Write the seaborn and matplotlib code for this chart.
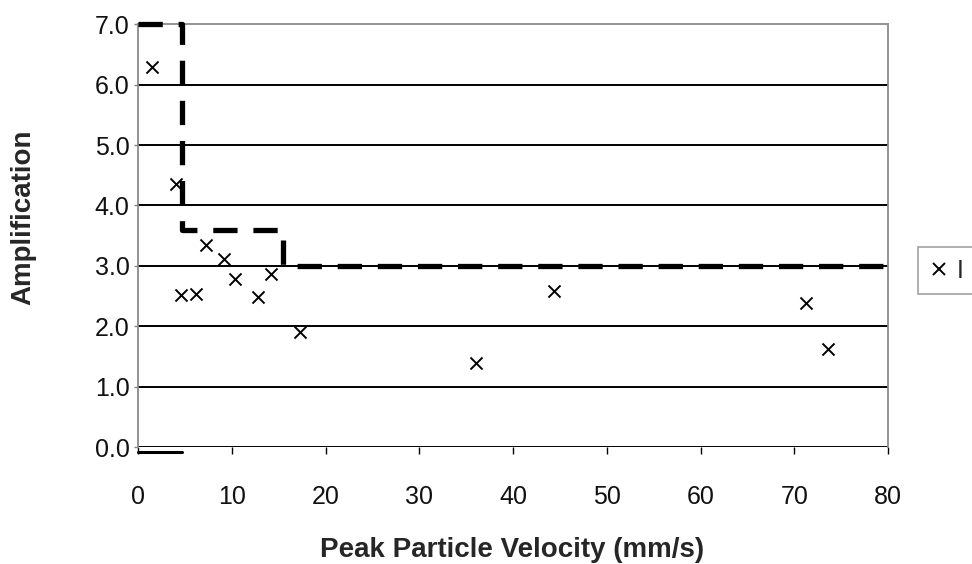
import matplotlib
matplotlib.use("Agg")
import matplotlib.pyplot as plt
import seaborn as sns
import pandas as pd

# Measured amplification against peak particle velocity
ppv = [1.5, 4.1, 4.6, 6.2, 7.2, 9.2, 10.3, 12.8, 14.2, 17.3, 36.1, 44.4, 71.3, 73.6]
amplification = [6.30, 4.36, 2.52, 2.53, 3.34, 3.12, 2.79, 2.48, 2.86, 1.91, 1.39, 2.59, 2.39, 1.62]

# Stepped design envelope
envelope_x = [0, 4.7, 4.7, 15.5, 15.5, 80]
envelope_y = [7.0, 7.0, 3.6, 3.6, 3.0, 3.0]

# Short baseline segment under the first step
base_x = [0, 4.7]
base_y = [-0.09, -0.09]

x_ticks = [0, 10, 20, 30, 40, 50, 60, 70, 80]
y_ticks = [0.0, 1.0, 2.0, 3.0, 4.0, 5.0, 6.0, 7.0]
series_label = "I"

sns.set_style("white")
plt.rcParams["font.family"] = ["Liberation Sans", "DejaVu Sans"]

df = pd.DataFrame({"ppv": ppv, "amp": amplification})

fig = plt.figure(figsize=(9.72, 5.64), dpi=100)
ax = fig.add_axes([0.142, 0.2074, 0.7716, 0.7496])

# horizontal grid
for yv in y_ticks[:-1]:
    ax.axhline(yv, color="black", lw=1.4, zorder=1)

ax.plot(envelope_x, envelope_y, color="black", lw=3.8, dashes=(4.6, 3.0),
        solid_capstyle="butt", dash_capstyle="butt", clip_on=False, zorder=3)
ax.plot(base_x, base_y, color="black", lw=2.2, clip_on=False, zorder=3)

sns.scatterplot(data=df, x="ppv", y="amp", marker="x", color="black",
                s=75, linewidth=1.4, ax=ax, zorder=4, legend=False)

ax.set_xlim(0, 80)
ax.set_ylim(0, 7)
ax.set_xticks(x_ticks)
ax.set_yticks(y_ticks)
ax.set_xticklabels([str(v) for v in x_ticks])
ax.set_yticklabels([f"{v:.1f}" for v in y_ticks])
ax.tick_params(axis="x", bottom=True, direction="out", length=5, width=1,
               color="black", labelsize=18, pad=22, labelcolor="#111111")
ax.tick_params(axis="y", left=True, direction="out", length=3, width=1,
               color="#808080", labelsize=18, pad=3, labelcolor="#111111")

for side in ("left", "right", "top"):
    ax.spines[side].set_color("#8a8a8a")
    ax.spines[side].set_linewidth(1.3)
ax.spines["bottom"].set_visible(False)

ax.set_xlabel("Peak Particle Velocity (mm/s)", fontsize=20, fontweight="bold")
ax.set_ylabel("Amplification", fontsize=20, fontweight="bold")
ax.xaxis.set_label_coords(0.499, -0.212)
ax.yaxis.set_label_coords(-0.135, 0.544)

# Legend box running past the right edge of the figure
handle = plt.Line2D([], [], marker="x", color="black", linestyle="none",
                    markersize=9, markeredgewidth=1.4)
leg = fig.legend([handle], [series_label], loc="center left", mode="expand",
                 bbox_to_anchor=(918 / 972, 1 - 295 / 564, 0.1, 49 / 564),
                 frameon=True, fancybox=False, edgecolor="#8a8a8a",
                 fontsize=18, handlelength=0.8, handletextpad=0.3,
                 borderpad=0.45, borderaxespad=0)
leg.get_frame().set_linewidth(1.2)

fig.savefig("out.png", dpi=100)
